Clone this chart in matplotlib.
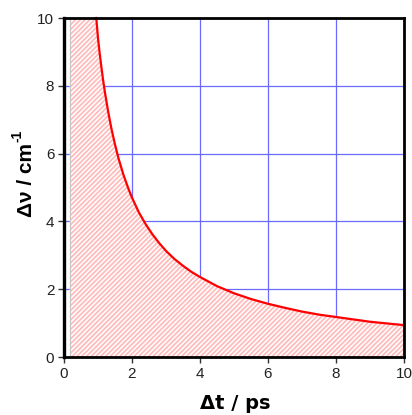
import matplotlib
matplotlib.use("Agg")
import matplotlib.pyplot as plt

plt.rcParams['font.family'] = ['Liberation Sans', 'DejaVu Sans']
plt.rcParams['hatch.linewidth'] = 1.3
plt.rcParams['hatch.color'] = '#ffbcbc'

# curve: delta t (ps) vs delta nu (cm^-1)
dt = [0.95, 1.0, 1.05, 1.1, 1.15, 1.2, 1.3, 1.4, 1.5, 1.6, 1.75, 1.9, 2.0, 2.2, 2.4, 2.6, 2.8, 3.0,
      3.25, 3.5, 3.75, 4.0, 4.5, 5.0, 5.5, 6.0, 6.5, 7.0, 7.5, 8.0, 8.5, 9.0, 9.5, 10.0]
dnu = [10.0, 9.4, 8.95, 8.55, 8.17, 7.83, 7.23, 6.71, 6.27, 5.87, 5.37, 4.95, 4.70, 4.27, 3.92, 3.62,
       3.36, 3.13, 2.89, 2.69, 2.51, 2.36, 2.09, 1.88, 1.71, 1.57, 1.45, 1.34, 1.25, 1.18, 1.11, 1.04, 0.99, 0.94]
fill_start = 0.17
xticks = [0, 2, 4, 6, 8, 10]
yticks = [0, 2, 4, 6, 8, 10]

W, H = 412, 415
fig = plt.figure(figsize=(W/100, H/100), dpi=100)
ax = fig.add_axes([64/W, 1-357/H, 340/W, 339/H])
ax.set_xlim(0, 10)
ax.set_ylim(0, 10)

fx = [fill_start] + dt
fy = [10.0] + dnu
ax.fill_between(fx, 0, fy, facecolor='white', edgecolor='#ffbcbc', hatch='///////', linewidth=0, zorder=2)
ax.plot([fill_start, fill_start], [0, 10], color='#c8c8c8', lw=0.8, zorder=3)
ax.plot(dt, dnu, color='#ff0000', lw=1.6, zorder=4, clip_on=False)

ax.set_xticks(xticks)
ax.set_yticks(yticks)
ax.grid(True, color='#6a6aff', lw=0.9, zorder=1)
ax.set_axisbelow(True)
ax.tick_params(direction='out', length=4, width=1, labelsize=11, colors='#333333', labelcolor='#222222', pad=3)
for name, s in ax.spines.items():
    s.set_linewidth(2.4 if name == 'left' else 2)
    s.set_color('black')
    s.set_zorder(5)

# axis labels
fig.text(235/W, 1-409/H, 'Δt / ps', fontsize=14, fontweight='bold', ha='center', va='baseline',
         family=['DejaVu Sans'])
yl = fig.text(32/W, 1-217/H, 'Δν / cm', fontsize=15, fontweight='bold', rotation=90,
              rotation_mode='anchor', ha='left', va='baseline')
fig.canvas.draw()
bb = yl.get_window_extent(fig.canvas.get_renderer())
fig.text(21/W, (bb.y1 + 1)/H, '-1', fontsize=10, fontweight='bold', rotation=90,
         rotation_mode='anchor', ha='left', va='baseline')

fig.savefig('out.png', dpi=100)
